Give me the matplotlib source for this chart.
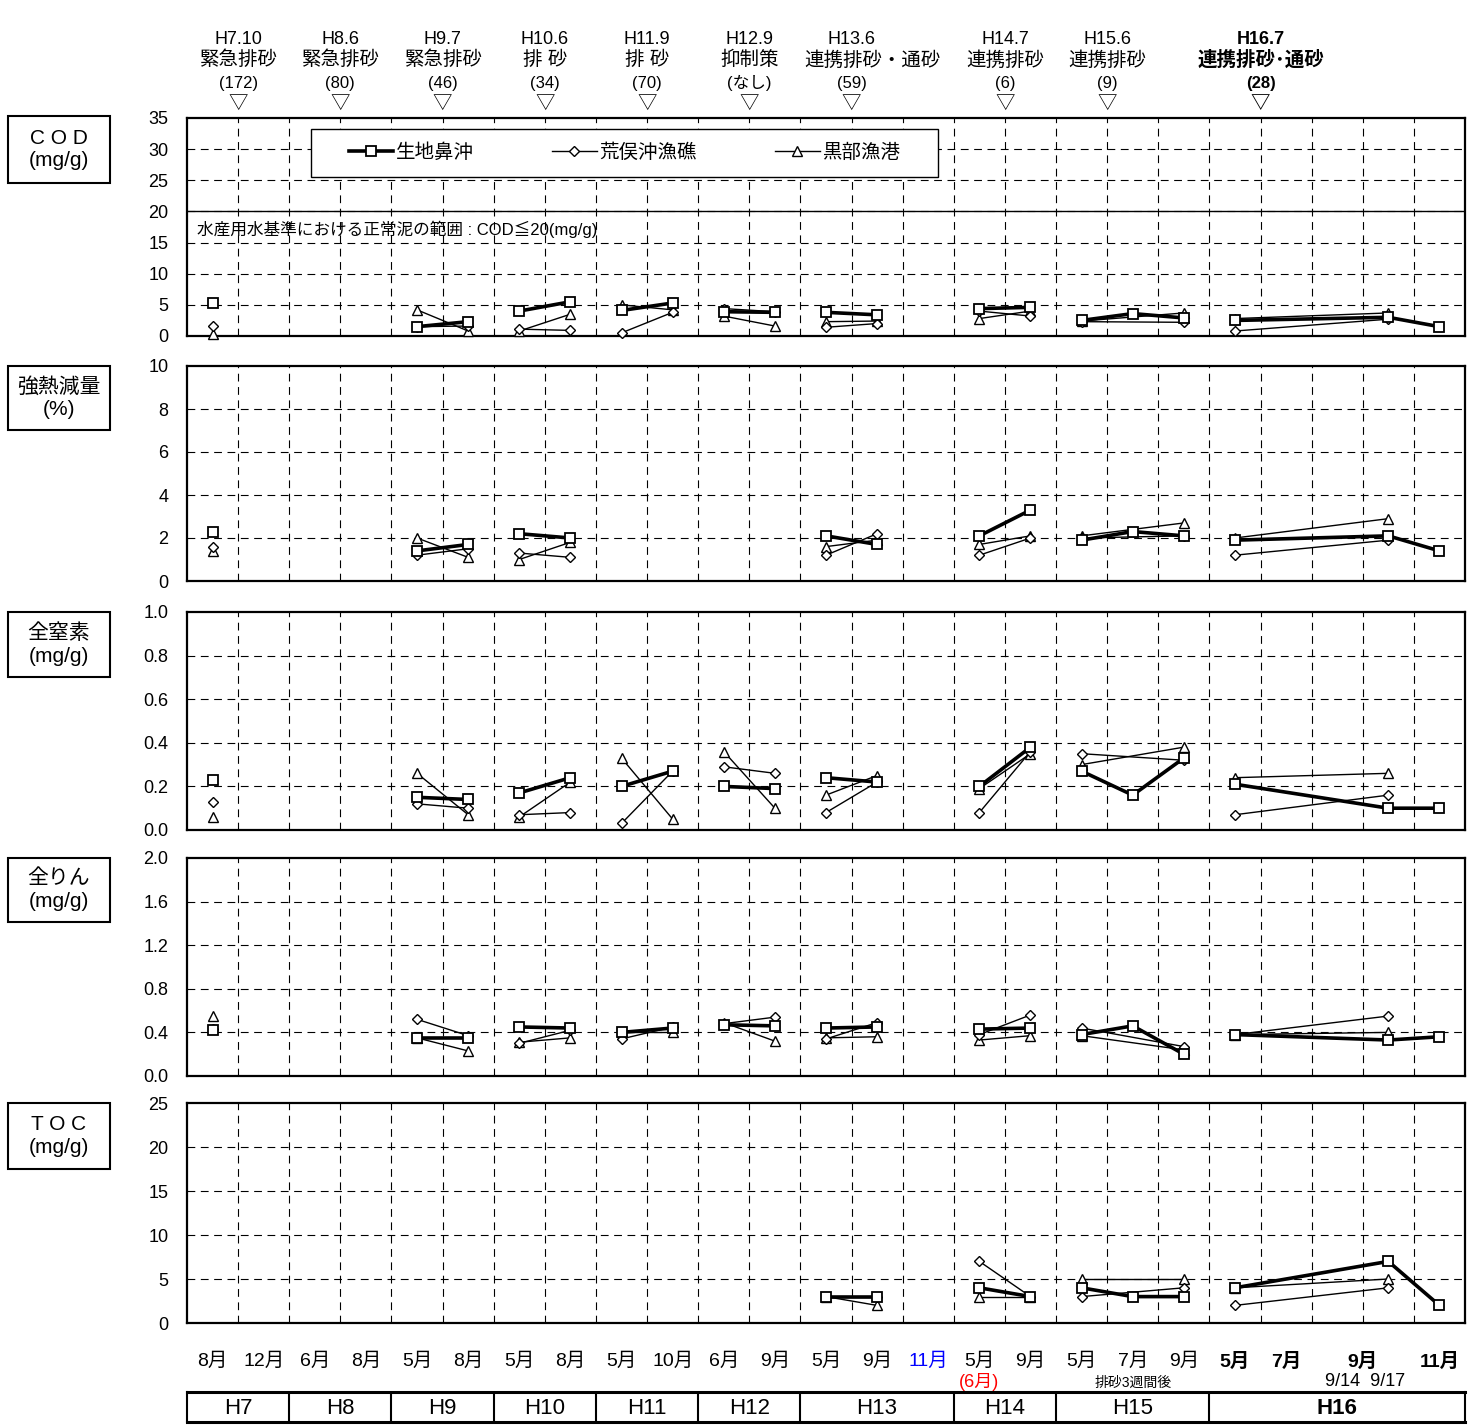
import matplotlib
matplotlib.use('Agg')
import matplotlib.pyplot as plt
from matplotlib.patches import Rectangle
from matplotlib.lines import Line2D

plt.rcParams['font.family'] = ['Liberation Sans', 'Noto Sans CJK JP']

N = None

# 採泥の時期（横軸上の位置）と年度
x_pos = [0.5, 4.5, 5.5, 6.5, 7.5, 8.5, 9.5, 10.5, 11.5,
         12.5, 13.5, 15.5, 16.5, 17.5, 18.5, 19.5, 20.5, 23.5, 24.5]
year_grp = ['H7', 'H9', 'H9', 'H10', 'H10', 'H11', 'H11', 'H12', 'H12',
            'H13', 'H13', 'H14', 'H14', 'H15', 'H15', 'H15', 'H16', 'H16', 'H16']

series_names = ['生地鼻沖', '荒俣沖漁礁', '黒部漁港']

# COD (mg/g)
cod_sq = [5.3, 1.5, 2.3, 4.0, 5.5, 4.1, 5.3, 3.9, 3.8, 3.8, 3.4, 4.4, 4.6, 2.5, 3.6, 2.9, 2.5, 3.0, 1.5]
cod_di = [1.6, 1.5, 1.6, 1.1, 0.9, 0.5, 3.8, 4.4, 3.9, 1.4, 2.0, 4.0, 3.2, 2.3, N, 2.2, 0.8, 2.7, N]
cod_tr = [0.3, 4.2, 0.8, 0.8, 3.5, 5.0, 4.2, 3.2, 1.6, 2.3, 2.4, 2.8, 4.0, 2.4, N, 3.7, 2.8, 3.7, N]

# 強熱減量 (%)
ign_sq = [2.3, 1.4, 1.7, 2.2, 2.0, N, N, N, N, 2.1, 1.7, 2.1, 3.3, 1.9, 2.3, 2.1, 1.9, 2.1, 1.4]
ign_di = [1.6, 1.2, 1.5, 1.3, 1.1, N, N, N, N, 1.2, 2.2, 1.2, 2.0, 2.0, N, 2.1, 1.2, 1.9, N]
ign_tr = [1.4, 2.0, 1.1, 1.0, 1.8, N, N, N, N, 1.6, 1.9, 1.7, 2.1, 2.1, N, 2.7, 2.0, 2.9, N]

# 全窒素 (mg/g)
tn_sq = [0.23, 0.15, 0.14, 0.17, 0.24, 0.20, 0.27, 0.20, 0.19, 0.24, 0.22, 0.20, 0.38, 0.27, 0.16, 0.33, 0.21, 0.10, 0.10]
tn_di = [0.13, 0.12, 0.10, 0.07, 0.08, 0.03, 0.27, 0.29, 0.26, 0.08, 0.22, 0.08, 0.36, 0.35, N, 0.32, 0.07, 0.16, N]
tn_tr = [0.06, 0.26, 0.07, 0.06, 0.22, 0.33, 0.05, 0.36, 0.10, 0.16, 0.25, 0.19, 0.35, 0.30, N, 0.38, 0.24, 0.26, N]

# 全りん (mg/g)
tp_sq = [0.42, 0.35, 0.35, 0.45, 0.44, 0.40, 0.44, 0.47, 0.46, 0.44, 0.45, 0.43, 0.44, 0.38, 0.46, 0.20, 0.38, 0.33, 0.36]
tp_di = [0.43, 0.52, 0.37, 0.30, 0.42, 0.34, 0.45, 0.48, 0.54, 0.34, 0.49, 0.38, 0.56, 0.44, N, 0.27, 0.38, 0.55, N]
tp_tr = [0.55, 0.35, 0.23, 0.31, 0.35, 0.40, 0.40, 0.49, 0.32, 0.35, 0.36, 0.33, 0.37, 0.37, N, 0.24, 0.38, 0.40, N]

# TOC (mg/g)
toc_sq = [N, N, N, N, N, N, N, N, N, 3, 3, 4, 3, 4, 3, 3, 4, 7, 2]
toc_di = [N, N, N, N, N, N, N, N, N, 3, 3, 7, 3, 3, N, 4, 2, 4, N]
toc_tr = [N, N, N, N, N, N, N, N, N, 3, 2, 3, 3, 5, N, 5, 4, 5, N]

# 排砂イベント
ev_x = [1, 3, 5, 7, 9, 11, 13, 16, 18, 21]
ev_date = ['H7.10', 'H8.6', 'H9.7', 'H10.6', 'H11.9', 'H12.9', 'H13.6', 'H14.7', 'H15.6', 'H16.7']
ev_type = ['緊急排砂', '緊急排砂', '緊急排砂', '排 砂', '排 砂', '抑制策',
           '連携排砂・通砂', '連携排砂', '連携排砂', '連携排砂･通砂']
ev_n = ['(172)', '(80)', '(46)', '(34)', '(70)', '(なし)', '(59)', '(6)', '(9)', '(28)']

# 月の目盛り
month_x = [0.5, 1.5, 2.5, 3.5, 4.5, 5.5, 6.5, 7.5, 8.5, 9.5, 10.5, 11.5,
           12.5, 13.5, 14.5, 15.5, 16.5, 17.5, 18.5, 19.5, 20.5, 21.5, 23.0, 24.5]
month_lbl = ['8月', '12月', '6月', '8月', '5月', '8月', '5月', '8月', '5月', '10月', '6月', '9月',
             '5月', '9月', '11月', '5月', '9月', '5月', '7月', '9月', '5月', '7月', '9月', '11月']

year_names = ['H7', 'H8', 'H9', 'H10', 'H11', 'H12', 'H13', 'H14', 'H15', 'H16']
year_edges = [0, 2, 4, 6, 8, 10, 12, 15, 17, 20, 25]

W, H = 1477, 1427
fig = plt.figure(figsize=(W / 100, H / 100), dpi=100)


def fx(p):
    return p / W


def fy(p):
    return 1 - p / H


panels = [
    ((118, 336), 35, 5, '{:.0f}', 'C O D\n(mg/g)', (116, 183), cod_sq, cod_di, cod_tr),
    ((366, 581), 10, 2, '{:.0f}', '強熱減量\n(%)', (366, 430), ign_sq, ign_di, ign_tr),
    ((612, 830), 1.0, 0.2, '{:.1f}', '全窒素\n(mg/g)', (612, 677), tn_sq, tn_di, tn_tr),
    ((858, 1076), 2.0, 0.4, '{:.1f}', '全りん\n(mg/g)', (858, 922), tp_sq, tp_di, tp_tr),
    ((1103, 1323), 25, 5, '{:.0f}', 'T O C\n(mg/g)', (1103, 1169), toc_sq, toc_di, toc_tr),
]

sq_style = dict(marker='s', ms=7.5, mfc='white', mec='black', mew=1.3, color='black', lw=2.6)
di_style = dict(marker='D', ms=5.5, mfc='white', mec='black', mew=1.0, color='black', lw=1.0)
tr_style = dict(marker='^', ms=7.5, mfc='white', mec='black', mew=1.0, color='black', lw=1.0)

groups = []
for g in year_grp:
    if g not in groups:
        groups.append(g)

axes = []
for (top, bot), ymax, step, fmt, label, (bt, bb), sq, di, tr in panels:
    ax = fig.add_axes([fx(187), fy(bot), fx(1465 - 187), (bot - top) / H])
    ax.set_xlim(0, 25)
    ax.set_ylim(0, ymax)
    ticks = [step * k for k in range(int(round(ymax / step)) + 1)]
    ax.set_yticks(ticks)
    ax.set_yticklabels([fmt.format(t) for t in ticks], fontsize=13)
    ax.set_xticks(range(26))
    ax.set_xticklabels([])
    ax.tick_params(length=0, pad=13.5)
    for x in range(1, 25):
        ax.axvline(x, color='black', lw=0.8, ls=(0, (7, 5)), zorder=1)
    for t in ticks[1:-1]:
        ax.axhline(t, color='black', lw=0.8, ls=(0, (7, 5)), zorder=1)
    for s in ax.spines.values():
        s.set_linewidth(1.6)

    for g in groups:
        idx = [i for i, gg in enumerate(year_grp) if gg == g]
        for vals, st, z in ((tr, tr_style, 3), (di, di_style, 4), (sq, sq_style, 5)):
            xs = [x_pos[i] for i in idx if vals[i] is not None]
            ys = [vals[i] for i in idx if vals[i] is not None]
            if xs:
                ax.plot(xs, ys, zorder=z, clip_on=False, **st)

    fig.add_artist(Rectangle((fx(8), fy(bb)), fx(102), (bb - bt) / H,
                             transform=fig.transFigure, fill=False, ec='black', lw=1.5))
    fig.text(fx(59), fy((bt + bb) / 2), label, ha='center', va='center',
             fontsize=15, linespacing=1.25)
    axes.append(ax)

ax1 = axes[0]
ax1.axhline(20, color='black', lw=1.0, zorder=2)
ax1.text(0.2, 17.2, '水産用水基準における正常泥の範囲 : COD≦20(mg/g)', fontsize=12,
         ha='left', va='center', zorder=6)

# 凡例（枠は別に描く）
lx0, lx1 = (311 - 187) / 1278, (938 - 187) / 1278
ly0, ly1 = (336 - 177) / 218, (336 - 129) / 218
ax1.add_patch(Rectangle((lx0, ly0), lx1 - lx0, ly1 - ly0, transform=ax1.transAxes,
                        fc='white', ec='black', lw=1.0, zorder=9))
handles = [Line2D([], [], **sq_style), Line2D([], [], **di_style), Line2D([], [], **tr_style)]
leg = ax1.legend(handles, series_names, ncol=3, loc='center',
                 bbox_to_anchor=((lx0 + lx1) / 2, (ly0 + ly1) / 2),
                 fontsize=14, frameon=False, handlelength=2.3, handletextpad=0.15,
                 columnspacing=4.0, borderaxespad=0, borderpad=0)
leg.set_zorder(10)

# 上部の排砂イベント
tx = ax1.get_xaxis_transform()
for i in range(len(ev_x)):
    bold = 'bold' if ev_date[i] == 'H16.7' else 'normal'
    xt = ev_x[i] + 0.4 if ev_date[i] == 'H13.6' else ev_x[i]
    ax1.text(ev_x[i], 1.36, ev_date[i], transform=tx, ha='center', va='center',
             fontsize=13, fontweight=bold)
    ax1.text(xt, 1.265, ev_type[i], transform=tx, ha='center', va='center',
             fontsize=14, fontweight=bold)
    ax1.text(ev_x[i], 1.16, ev_n[i], transform=tx, ha='center', va='center',
             fontsize=12, fontweight=bold)
    ax1.text(ev_x[i], 1.062, '▽', transform=tx, ha='center', va='center',
             fontsize=14, fontweight=bold)

# 下部の月ラベル
ax5 = axes[-1]
bx = ax5.get_xaxis_transform()
for i in range(len(month_x)):
    col = 'blue' if i == 14 else 'black'
    wt = 'bold' if i >= 20 else 'normal'
    ax5.text(month_x[i], -0.175, month_lbl[i], transform=bx, ha='center', va='center',
             fontsize=14, color=col, fontweight=wt)
ax5.text(15.5, -0.268, '(6月)', transform=bx, ha='center', va='center', fontsize=13, color='red')
ax5.text(18.5, -0.272, '排砂3週間後', transform=bx, ha='center', va='center', fontsize=10)
ax5.text(23.05, -0.268, '9/14  9/17', transform=bx, ha='center', va='center', fontsize=13)

# 年度の表
axt = fig.add_axes([fx(187), fy(1422), fx(1465 - 187), 30 / H])
axt.set_xlim(0, 25)
axt.set_ylim(0, 1)
axt.set_xticks([])
axt.set_yticks([])
axt.spines['top'].set_linewidth(2.2)
axt.spines['bottom'].set_linewidth(2.2)
axt.spines['left'].set_linewidth(1.5)
axt.spines['right'].set_linewidth(1.5)
for e in year_edges[1:-1]:
    axt.axvline(e, color='black', lw=1.5)
for k, name in enumerate(year_names):
    c = (year_edges[k] + year_edges[k + 1]) / 2
    axt.text(c, 0.45, name, ha='center', va='center', fontsize=16,
             fontweight='bold' if name == 'H16' else 'normal')

fig.savefig('out.png', dpi=100)
